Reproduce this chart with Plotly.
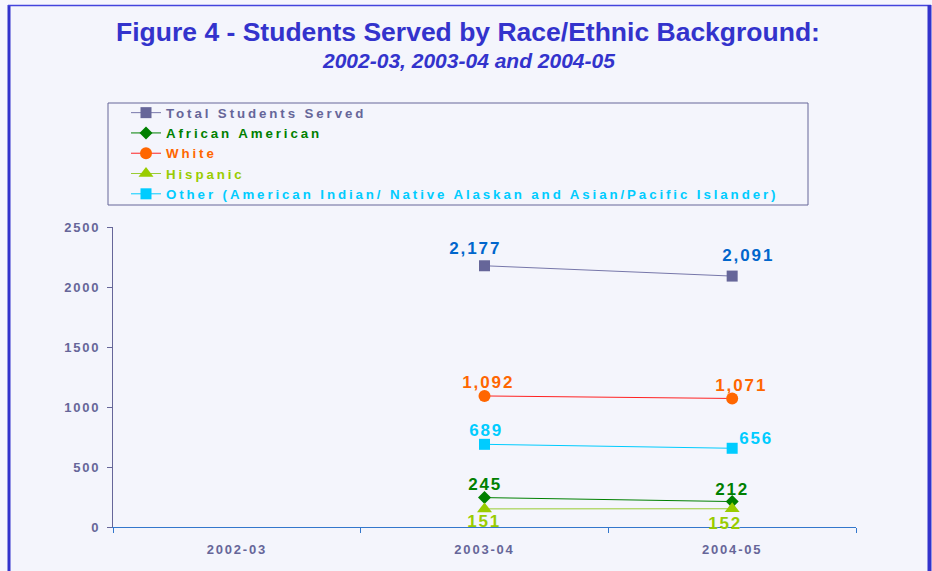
import plotly.graph_objects as go

years = ["2002-03", "2003-04", "2004-05"]
total = [None, 2177, 2091]
african_american = [None, 245, 212]
white = [None, 1092, 1071]
hispanic = [None, 151, 152]
other = [None, 689, 656]

BG = "#F4F5FC"
AXIS = "#666699"
FONT = "Liberation Sans"
W, H = 932, 571
L, R, T, B = 113, 76, 227, 44
PW, PH = W - L - R, H - T - B

def px(x):
    return (x - L) / PW

def py(y):
    return (H - B - y) / PH

def fmt(v):
    return f"{v:,}"

# label offsets (pixels, right / down) relative to each marker -- styling only
series = [
    dict(name="Total Students Served", y=total, line="#7777AA", marker="#666699",
         symbol="square", size=11, text="#0066CC", legend="#666699",
         off=[None, (-9, -17), (16, -21)]),
    dict(name="African American", y=african_american, line="#008000", marker="#008000",
         symbol="diamond", size=10, text="#008000", legend="#008000",
         off=[None, (0, -13), (0, -12)]),
    dict(name="White", y=white, line="#FF2222", marker="#FF6600",
         symbol="circle", size=12, text="#FF6600", legend="#FF6600",
         off=[None, (4, -13), (9, -12.5)]),
    dict(name="Hispanic", y=hispanic, line="#99CC33", marker="#99CC00",
         symbol="triangle-up", size=13, text="#99CC00", legend="#99CC00",
         off=[None, (-1, 13), (-7, 14.5)]),
    dict(name="Other (American Indian/ Native Alaskan and Asian/Pacific Islander)", y=other,
         line="#00CCFF", marker="#00CCFF", symbol="square", size=11, text="#00CCFF",
         legend="#00CCFF", off=[None, (1.5, -14), (24, -10)]),
]

fig = go.Figure()
annotations = [dict(text="<b><i>2002-03, 2003-04 and 2004-05</i></b>",
                    xref="paper", yref="paper", x=px(468), y=py(60),
                    xanchor="center", yanchor="middle", showarrow=False,
                    font=dict(family=FONT, size=21, color="#3333CC"))]

for s in series:
    fig.add_trace(go.Scatter(
        x=years, y=s["y"],
        name=f"<span style='color:{s['legend']}'>{s['name']}</span>",
        mode="lines+markers",
        line=dict(color=s["line"], width=1),
        marker=dict(color=s["marker"], symbol=s["symbol"], size=s["size"]),
        cliponaxis=False,
    ))
    for xv, yv, off in zip(years, s["y"], s["off"]):
        if yv is None:
            continue
        annotations.append(dict(
            text=f"<b>{fmt(yv)}</b>", x=xv, y=yv, xref="x", yref="y",
            xanchor="center", yanchor="middle", showarrow=False,
            xshift=off[0], yshift=-off[1],
            font=dict(family=FONT, size=17, color=s["text"])))

fig.update_layout(
    width=W, height=H,
    margin=dict(l=L, r=R, t=T, b=B),
    paper_bgcolor="#F6F6FD", plot_bgcolor=BG,
    title=dict(text="<b>Figure 4 - Students Served by Race/Ethnic Background:</b>",
               x=468 / W, xanchor="center", y=1 - 32 / H, yanchor="middle",
               font=dict(family=FONT, size=26.5, color="#3333CC")),
    annotations=annotations,
    legend=dict(x=px(126), y=py(97.5), xanchor="left", yanchor="top",
                bgcolor="rgba(0,0,0,0)", borderwidth=0,
                font=dict(family=FONT, size=13.3, weight="bold"),
                itemwidth=30, tracegroupgap=0),
    xaxis=dict(type="category", range=[-0.5, 2.5], showline=True, linecolor="#3377CC",
               linewidth=1, ticks="outside", tickson="boundaries", ticklen=5,
               tickcolor="#3377CC", showgrid=False, zeroline=False, ticklabelstandoff=10,
               tickfont=dict(family=FONT, size=13, color=AXIS, weight="bold")),
    yaxis=dict(range=[0, 2500], dtick=500, showline=True, linecolor=AXIS, linewidth=1,
               ticks="outside", ticklen=5, tickcolor=AXIS, showgrid=False, zeroline=False,
               ticklabelstandoff=4,
               tickfont=dict(family=FONT, size=13, color=AXIS, weight="bold")),
    shapes=[
        dict(type="rect", xref="paper", yref="paper",
             x0=px(9), x1=px(929), y0=py(575), y1=py(5),
             line=dict(width=0), fillcolor=BG, layer="below"),
        dict(type="line", xref="paper", yref="paper", x0=px(9), x1=px(9),
             y0=py(575), y1=py(5), line=dict(color="#3333CC", width=3), layer="below"),
        dict(type="line", xref="paper", yref="paper", x0=px(8), x1=px(931),
             y0=py(5.5), y1=py(5.5), line=dict(color="#4444DD", width=1.5), layer="below"),
        dict(type="line", xref="paper", yref="paper", x0=px(929.5), x1=px(929.5),
             y0=py(575), y1=py(5), line=dict(color="#3333CC", width=4), layer="below"),
        dict(type="rect", xref="paper", yref="paper",
             x0=px(108), x1=px(808), y0=py(205), y1=py(103),
             line=dict(color="#666699", width=1), fillcolor="rgba(0,0,0,0)", layer="below"),
    ],
)

post = """
var s = document.createElement('style');
s.textContent = 'body{margin:0 !important;}'
  + ' .legend, .legend *{clip-path:none !important;}'
  + ' .legendtext{letter-spacing:2.9px;}'
  + ' .annotation-text{letter-spacing:1.9px;}'
  + ' g.annotation[data-index="0"] .annotation-text{letter-spacing:0 !important;}'
  + ' .xtick text, .ytick text{letter-spacing:1.8px;}';
document.head.appendChild(s);
"""

fig.write_html("out.html", post_script=post, config={"displayModeBar": False})
